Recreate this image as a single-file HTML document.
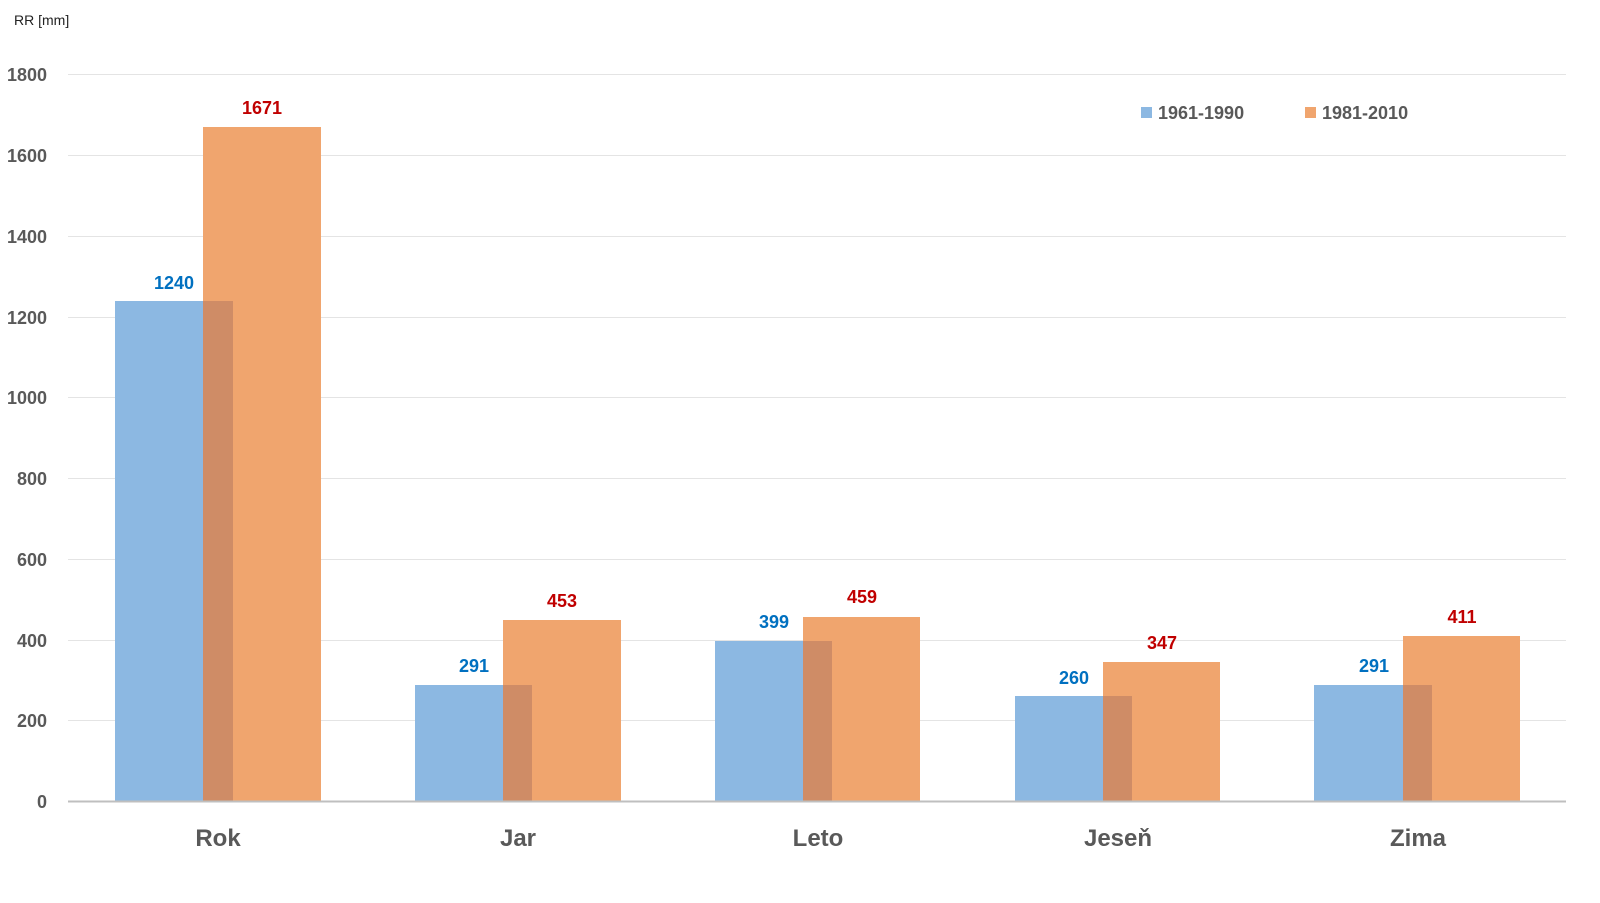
<!DOCTYPE html>
<html><head><meta charset="utf-8"><style>body{margin:0;background:#fff}svg{display:block}text{font-family:"Liberation Sans",sans-serif}</style></head><body>
<svg width="1600" height="903" xmlns="http://www.w3.org/2000/svg">
<text x="14" y="25" font-size="14" fill="#222">RR [mm]</text>
<g stroke="#e4e4e4" stroke-width="1">
<line x1="68" x2="1566" y1="74.5" y2="74.5"/><line x1="68" x2="1566" y1="155.5" y2="155.5"/><line x1="68" x2="1566" y1="236.5" y2="236.5"/><line x1="68" x2="1566" y1="317.5" y2="317.5"/><line x1="68" x2="1566" y1="397.5" y2="397.5"/><line x1="68" x2="1566" y1="478.5" y2="478.5"/><line x1="68" x2="1566" y1="559.5" y2="559.5"/><line x1="68" x2="1566" y1="640.5" y2="640.5"/><line x1="68" x2="1566" y1="720.5" y2="720.5"/>
</g>
<g font-size="18" font-weight="bold" fill="#595959" text-anchor="end">
<text x="47" y="81">1800</text><text x="47" y="162">1600</text><text x="47" y="243">1400</text><text x="47" y="324">1200</text><text x="47" y="404">1000</text><text x="47" y="485">800</text><text x="47" y="566">600</text><text x="47" y="647">400</text><text x="47" y="727">200</text><text x="47" y="808">0</text>
</g>
<!-- bars -->
<g>
<rect x="203" y="127" width="118" height="674" fill="#f0a56e"/><rect x="115" y="301" width="118" height="500" fill="#8cb8e2"/><rect x="203" y="301" width="30" height="500" fill="#cf8c66"/>
<rect x="503" y="620" width="118" height="181" fill="#f0a56e"/><rect x="415" y="685" width="117" height="116" fill="#8cb8e2"/><rect x="503" y="685" width="29" height="116" fill="#cf8c66"/>
<rect x="803" y="617" width="117" height="184" fill="#f0a56e"/><rect x="715" y="641" width="117" height="160" fill="#8cb8e2"/><rect x="803" y="641" width="29" height="160" fill="#cf8c66"/>
<rect x="1103" y="662" width="117" height="139" fill="#f0a56e"/><rect x="1015" y="696" width="117" height="105" fill="#8cb8e2"/><rect x="1103" y="696" width="29" height="105" fill="#cf8c66"/>
<rect x="1403" y="636" width="117" height="165" fill="#f0a56e"/><rect x="1314" y="685" width="118" height="116" fill="#8cb8e2"/><rect x="1403" y="685" width="29" height="116" fill="#cf8c66"/>
</g>
<line x1="68" x2="1566" y1="801.5" y2="801.5" stroke="#bfbfbf" stroke-width="2"/>
<g font-size="18" font-weight="bold" text-anchor="middle">
<text x="174" y="289" fill="#0070c0">1240</text><text x="262" y="114" fill="#c00000">1671</text>
<text x="474" y="672" fill="#0070c0">291</text><text x="562" y="607" fill="#c00000">453</text>
<text x="774" y="628" fill="#0070c0">399</text><text x="862" y="603" fill="#c00000">459</text>
<text x="1074" y="684" fill="#0070c0">260</text><text x="1162" y="649" fill="#c00000">347</text>
<text x="1374" y="672" fill="#0070c0">291</text><text x="1462" y="623" fill="#c00000">411</text>
</g>
<g font-size="24" font-weight="bold" fill="#595959" text-anchor="middle">
<text x="218" y="846">Rok</text><text x="518" y="846">Jar</text><text x="818" y="846">Leto</text><text x="1118" y="846">Jeseň</text><text x="1418" y="846">Zima</text>
</g>
<rect x="1141" y="107" width="11" height="11" fill="#8cb8e2"/>
<text x="1158" y="119" font-size="18" font-weight="bold" fill="#595959">1961-1990</text>
<rect x="1305" y="107" width="11" height="11" fill="#f0a56e"/>
<text x="1322" y="119" font-size="18" font-weight="bold" fill="#595959">1981-2010</text>
</svg>
</body></html>
